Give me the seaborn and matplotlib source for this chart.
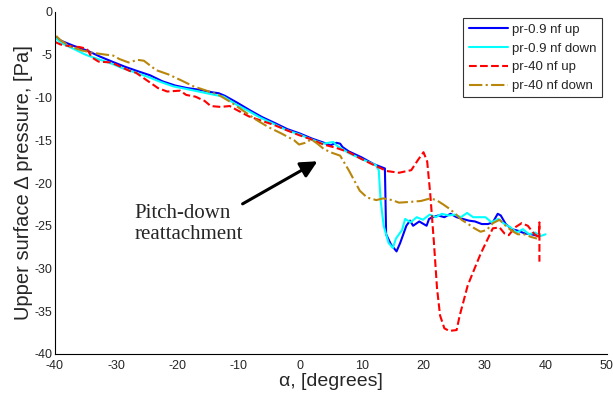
import matplotlib as mpl
import matplotlib.pyplot as plt
import seaborn as sns
import pandas as pd
import numpy as np

# pr-0.9 nf up
alpha_up09 = [-39.8, -38.9, -36.8, -34.8, -32.7, -30.7, -28.6, -26.6, -24.5, -22.5, -20.4, -18.4, -16.4, -14.3, -13.3, -12.3,
              -10.3, -8.2, -6.2, -4.1, -2.1, -0.1, 1.9, 3.9, 4.9, 5.9, 6.5, 6.9, 7.9, 10.0, 12.0, 13.8, 13.9, 14.0, 14.8, 15.7,
              16.3, 16.8, 17.3, 17.9, 18.4, 19.4, 20.6, 21.0, 21.6, 22.5, 23.5, 24.5, 25.5, 26.5, 27.5, 28.5, 29.6, 30.6, 31.4,
              32.2, 32.7, 33.5, 34.5, 35.6, 36.6, 37.7, 38.8]
p_up09 = [-3.0, -3.4, -4.0, -4.5, -5.2, -5.8, -6.4, -6.9, -7.4, -8.1, -8.6, -8.9, -9.1, -9.4, -9.5, -9.8,
          -10.6, -11.5, -12.3, -13.0, -13.7, -14.2, -14.8, -15.3, -15.6, -15.3, -15.4, -15.8, -16.3, -17.0, -17.8, -18.3, -22.0, -26.0, -27.2, -28.0,
          -27.0, -26.0, -25.0, -24.4, -25.0, -24.5, -25.0, -24.2, -24.0, -23.8, -24.0, -23.6, -24.0, -24.2, -24.4, -24.5, -24.8, -24.8, -24.6,
          -23.6, -23.8, -24.8, -25.4, -25.6, -25.9, -26.0, -26.2]

# pr-0.9 nf down
alpha_dn09 = [40.0, 39.2, 38.3, 37.3, 36.3, 35.3, 34.3, 33.3, 32.3, 31.2, 30.2, 28.2, 27.2, 26.2, 25.2, 24.2, 23.1, 22.1, 21.1, 20.0, 19.0, 18.0,
              17.1, 16.6, 15.6, 15.1, 14.4, 13.6, 13.1, 12.8, 12.3, 10.0, 7.9, 5.9, 5.4, 3.8, 1.8, -0.2, -2.3, -4.3, -6.4, -8.4,
              -10.5, -12.5, -14.6, -16.6, -18.6, -20.7, -22.7, -24.8, -26.8, -28.9, -30.9, -33.0, -35.0, -37.0, -39.1, -39.8]
p_dn09 = [-26.0, -26.2, -25.8, -26.0, -25.4, -25.8, -25.2, -24.8, -24.2, -24.6, -24.0, -24.0, -23.5, -24.0, -23.7, -23.8, -23.6, -24.0, -23.7, -24.3, -24.0, -24.6,
          -24.2, -25.5, -26.5, -27.6, -27.0, -25.0, -22.0, -18.5, -17.9, -17.2, -16.5, -15.6, -15.2, -15.4, -14.9, -14.3, -13.8, -13.1, -12.4, -11.6,
          -10.8, -9.9, -9.6, -9.3, -9.0, -8.7, -8.2, -7.6, -7.1, -6.6, -6.0, -5.5, -5.0, -4.3, -3.6, -3.1]

# pr-40 nf up
alpha_up40 = [-40.0, -39.1, -37.6, -36.0, -34.8, -34.0, -32.9, -30.9, -29.9, -27.8, -26.8, -25.8, -24.8, -23.2, -21.7, -19.6, -18.6,
              -17.1, -15.6, -14.6, -13.0, -11.5, -10.5, -8.4, -6.4, -4.3, -2.3, -0.2, 1.8, 3.8, 5.9, 7.9, 10.0, 12.0, 14.1, 16.1, 18.1, 19.2,
              20.1, 20.7, 21.2, 21.8, 22.3, 22.8, 23.5, 24.3, 25.5, 26.0, 26.6, 27.3, 28.2, 29.4, 30.4, 31.4, 32.5, 33.3, 34.0,
              35.0, 36.1, 37.1, 38.2, 38.9, 39.0, 39.0]
p_up40 = [-3.5, -3.8, -4.0, -4.1, -4.3, -5.3, -5.8, -5.9, -6.2, -6.9, -7.1, -7.6, -8.1, -8.9, -9.3, -9.2, -9.7,
          -9.9, -10.4, -11.0, -11.1, -11.0, -11.4, -12.2, -12.7, -13.2, -13.8, -14.4, -14.9, -15.5, -15.9, -16.4, -17.2, -17.9, -18.6, -18.8, -18.5, -17.3,
          -16.4, -17.5, -21.3, -27.0, -32.3, -35.5, -37.0, -37.3, -37.2, -35.5, -33.9, -32.0, -30.4, -28.3, -26.8, -25.3, -25.2, -25.9, -26.1,
          -25.2, -24.7, -25.0, -26.0, -26.3, -24.6, -29.2]

# pr-40 nf down
alpha_dn40 = [-39.8, -39.1, -37.6, -35.6, -33.6, -31.6, -30.5, -29.5, -28.0, -26.5, -25.5, -23.5, -21.5, -19.4, -17.4, -15.3, -13.3,
              -11.2, -9.2, -7.2, -5.1, -3.1, -1.0, -0.2, 0.8, 1.8, 2.8, 3.8, 4.9, 6.5, 7.9, 9.7, 10.9, 12.4, 13.5, 15.0, 16.1, 18.1, 19.7,
              21.2, 22.2, 23.3, 24.3, 25.3, 26.3, 27.4, 28.4, 29.4, 30.4, 31.4, 32.5, 33.5, 34.5, 35.5, 36.5, 37.6, 38.6]
p_dn40 = [-2.8, -3.3, -4.0, -4.5, -4.8, -5.0, -5.1, -5.5, -5.9, -5.6, -5.7, -6.8, -7.3, -8.0, -8.7, -9.2, -9.7,
          -10.6, -11.6, -12.6, -13.5, -14.2, -15.0, -15.5, -15.3, -14.9, -15.4, -16.0, -16.4, -16.8, -18.5, -20.9, -21.7, -22.0, -21.8, -22.0, -22.3, -22.2, -22.1,
          -21.8, -22.0, -22.5, -23.0, -23.6, -24.3, -24.8, -25.3, -25.7, -25.5, -24.7, -24.3, -25.0, -25.6, -26.0, -26.0, -26.3, -26.5]

series = [
    ('pr-0.9 nf up', alpha_up09, p_up09, '#0000ff', '-'),
    ('pr-0.9 nf down', alpha_dn09, p_dn09, '#00ffff', '-'),
    ('pr-40 nf up', alpha_up40, p_up40, '#ff0000', '--'),
    ('pr-40 nf down', alpha_dn40, p_dn40, '#b8860b', '-.'),
]

sns.set_style('white')
plt.rcParams['font.family'] = ['Liberation Sans', 'DejaVu Sans']
plt.rcParams['axes.unicode_minus'] = False

f, ax = plt.subplots(figsize=(6.13, 4.0), dpi=100)
plt.subplots_adjust(left=0.0897, right=0.990, top=0.97, bottom=0.115)

for name, a, p, c, ls in series:
    df = pd.DataFrame({'alpha': a, 'p': p})
    sns.lineplot(data=df, x='alpha', y='p', ax=ax, sort=False, estimator=None,
                 color=c, linestyle=ls, linewidth=1.5, label=name)

ax.set_xlim(-40, 50)
ax.set_ylim(-40, 0)
ax.set_xticks(np.arange(-40, 51, 10))
ax.set_yticks(np.arange(-40, 1, 5))
ax.tick_params(direction='in', length=4, labelsize=9, width=0.8)
ax.tick_params(axis='x', pad=4)
ax.tick_params(axis='y', pad=2)
for s in ['top', 'right']:
    ax.spines[s].set_visible(False)
for s in ['left', 'bottom']:
    ax.spines[s].set_color('black')
    ax.spines[s].set_linewidth(0.8)

ax.set_xlabel('\u03b1, [degrees]', fontsize=14, labelpad=1)
ax.set_ylabel('Upper surface \u0394 pressure, [Pa]', fontsize=14.5, labelpad=1)

ax.annotate('', xy=(3.2, -17.3), xytext=(-9.8, -22.6),
            arrowprops=dict(arrowstyle='-|>,head_length=1.0,head_width=0.5', color='black', lw=2.2))
ax.text(-27.0, -22.4, 'Pitch-down\nreattachment', fontsize=15, family='Liberation Serif',
        va='top', ha='left', linespacing=1.2)

leg = ax.legend(loc='upper right', bbox_to_anchor=(0.991, 0.982), borderaxespad=0, fontsize=9.5,
                frameon=True, fancybox=False, edgecolor='black', handlelength=3.0, borderpad=0.4,
                labelspacing=0.5, handletextpad=0.3)
leg.get_frame().set_linewidth(0.8)

plt.savefig('out.png', dpi=100)
